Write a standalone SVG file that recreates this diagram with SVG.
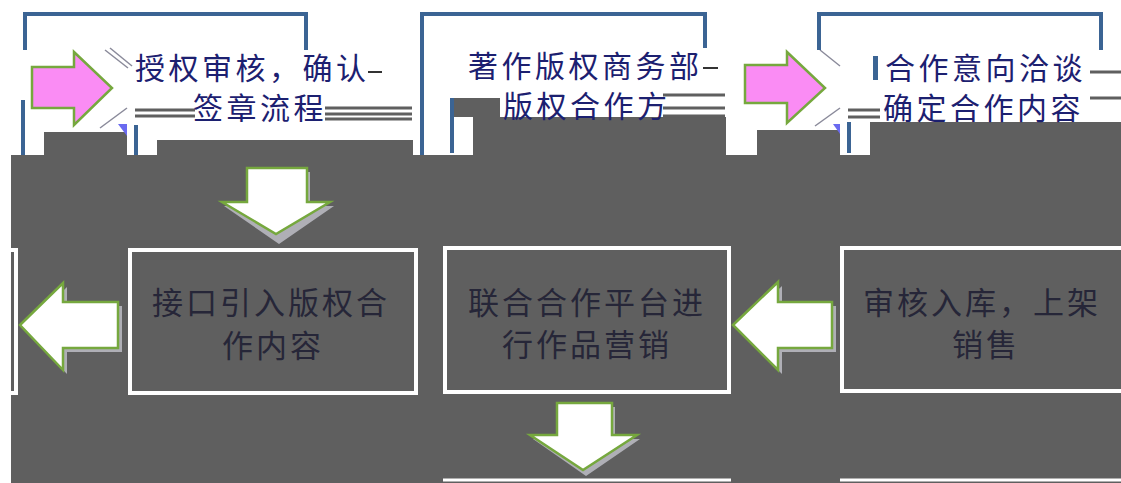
<svg xmlns="http://www.w3.org/2000/svg" width="1121" height="483" viewBox="0 0 1121 483">
<defs>
<style>
.bg{fill:#5f5f5f}
.blue{fill:none;stroke:#3b6494;stroke-width:4}
.bluef{fill:#3b6494}
.gline{stroke:#5f5f5f;stroke-width:3}
.box{fill:#5f5f5f;stroke:#ffffff;stroke-width:4}
.t1{font-family:"Noto Sans CJK SC","Noto Sans",sans-serif;font-size:30px;letter-spacing:3.5px;fill:#1c2070}
.t2{font-family:"Noto Sans CJK SC","Noto Sans",sans-serif;font-size:31px;letter-spacing:3px;fill:#262638}
.pink{fill:#fa8cf4;stroke:#76a83e;stroke-width:2.5}
.warr{fill:#ffffff;stroke:#76a83e;stroke-width:2.5}
.shadow{fill:#b8b8c0;opacity:0.9}
</style>
</defs>
<rect x="0" y="0" width="1121" height="483" fill="#ffffff"/>
<rect class="bg" x="11" y="155" width="1110" height="328"/>
<g id="top-fragments">
<rect class="bg" x="44" y="132" width="83" height="23"/>
<rect class="bg" x="157" y="140" width="256" height="15"/>
<rect class="bg" x="450" y="98" width="50" height="19"/>
<rect class="bg" x="473" y="117" width="253" height="38"/>
<rect class="bg" x="757" y="130" width="83" height="25"/>
<rect class="bg" x="870" y="122" width="251" height="33"/>
<line class="gline" x1="135" y1="110" x2="195" y2="110"/>
<line class="gline" x1="135" y1="116" x2="195" y2="116"/>
<line class="gline" x1="325" y1="108" x2="412" y2="108"/>
<line class="gline" x1="325" y1="114" x2="412" y2="114"/>
<line class="gline" x1="325" y1="119" x2="412" y2="119"/>
<line class="gline" x1="663" y1="95" x2="725" y2="95"/>
<line class="gline" x1="663" y1="108" x2="725" y2="108"/>
<line class="gline" x1="663" y1="116" x2="725" y2="116"/>
<line class="gline" x1="848" y1="110" x2="880" y2="110"/>
<line class="gline" x1="848" y1="117" x2="880" y2="117"/>
<line class="gline" x1="1090" y1="72" x2="1121" y2="72"/>
<line class="gline" x1="1090" y1="98" x2="1121" y2="98"/>
<line x1="368" y1="72" x2="382" y2="72" stroke="#333" stroke-width="2"/>
<line x1="703" y1="68" x2="718" y2="68" stroke="#333" stroke-width="2"/>
<line x1="105" y1="50" x2="128" y2="68" stroke="#8a8a9a" stroke-width="1.5"/>
<line x1="110" y1="48" x2="132" y2="66" stroke="#8a8a9a" stroke-width="1.5"/>
<line x1="100" y1="128" x2="127" y2="108" stroke="#8a8a9a" stroke-width="1.5"/>
<line x1="820" y1="50" x2="840" y2="66" stroke="#8a8a9a" stroke-width="1.5"/>
<line x1="815" y1="126" x2="840" y2="108" stroke="#8a8a9a" stroke-width="1.5"/>
<polygon points="118,124 127,124 127,136" fill="#6a6af0"/>
<polygon points="833,124 840,124 840,134" fill="#6a6af0"/>
</g>
<g id="node-1">
<polyline class="blue" points="25,50 25,14 306,14 306,50"/>
<line class="blue" x1="23" y1="100" x2="23" y2="155"/>
<line class="blue" x1="136" y1="125" x2="136" y2="155"/>
<text class="t1" x="135" y="79">授权审核，确认</text>
<text class="t1" x="193" y="119">签章流程</text>
</g>
<g id="node-2">
<polyline class="blue" points="422,155 422,14 705,14 705,48"/>
<line class="blue" x1="452" y1="98" x2="452" y2="153"/>
<text class="t1" x="468" y="77">著作版权商务部</text>
<text class="t1" x="503" y="117">版权合作方</text>
</g>
<g id="node-3">
<polyline class="blue" points="819,50 819,14 1101,14 1101,50"/>
<rect class="bluef" x="873" y="56" width="5" height="24"/>
<line class="blue" x1="849" y1="122" x2="849" y2="153"/>
<text class="t1" x="885" y="79">合作意向洽谈</text>
<text class="t1" x="883" y="119">确定合作内容</text>
</g>
<g id="node-4">
<rect class="box" x="130" y="250" width="286" height="143"/>
<text class="t2" x="152" y="314">接口引入版权合</text>
<text class="t2" x="222" y="357">作内容</text>
</g>
<g id="node-5">
<rect class="box" x="445" y="248" width="284" height="144"/>
<text class="t2" x="468" y="314">联合合作平台进</text>
<text class="t2" x="502" y="356">行作品营销</text>
</g>
<g id="node-6">
<rect class="box" x="842" y="248" width="300" height="143"/>
<text class="t2" x="863" y="314">审核入库，上架</text>
<text class="t2" x="952" y="356">销售</text>
</g>
<g id="node-7">
<polyline points="11,250 16,250 16,393 11,393" fill="none" stroke="#ffffff" stroke-width="4"/>
</g>
<g id="node-8">
<line x1="443" y1="480" x2="731" y2="480" stroke="#ffffff" stroke-width="3"/>
<line x1="840" y1="480" x2="1121" y2="480" stroke="#ffffff" stroke-width="3"/>
</g>
<g id="connectors">
<polygon class="pink" points="32,67 74,67 74,52 112,88 74,125 74,108 32,108"/>
<polygon class="pink" points="745,65 787,65 787,52 825,88 787,123 787,103 745,103"/>
<polygon class="shadow" points="250,172 310,172 310,206 334,206 279,244 224,206 250,206"/>
<polygon class="warr" points="247,168 307,168 307,202 330,202 276,234 222,202 247,202"/>
<polygon class="shadow" points="24,329 67,287 67,306 122,306 122,352 67,352 67,374"/>
<polygon class="warr" points="20,325 63,283 63,302 118,302 118,348 63,348 63,370"/>
<polygon class="shadow" points="737,329 782,286 782,306 836,306 836,352 782,352 782,374"/>
<polygon class="warr" points="733,325 778,282 778,302 832,302 832,348 778,348 778,370"/>
<polygon class="shadow" points="560,407 615,407 615,439 640,439 586,476 533,439 560,439"/>
<polygon class="warr" points="557,403 612,403 612,435 637,435 583,470 530,435 557,435"/>
</g>
</svg>
